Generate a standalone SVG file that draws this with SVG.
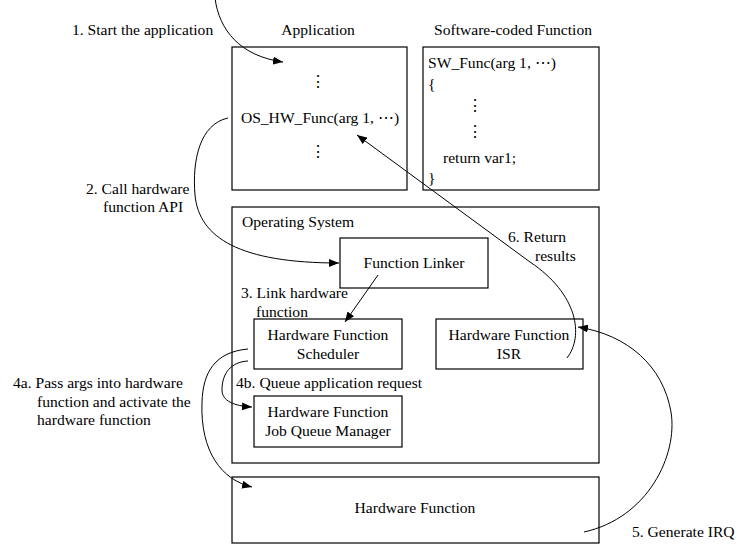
<svg xmlns="http://www.w3.org/2000/svg" width="739" height="544" viewBox="0 0 739 544" font-family="'Liberation Serif', 'Times New Roman', Times, serif" font-size="15.6">
<style>
.m{text-anchor:middle}
.box{fill:#fff;stroke:#000;stroke-width:1.2}
.c{fill:none;stroke:#000;stroke-width:1}
</style>
<defs>
<marker id="ah" viewBox="0 0 10 8" refX="10" refY="4" markerWidth="10" markerHeight="8" markerUnits="userSpaceOnUse" orient="auto">
<path d="M0,0 L10,4 L0,8 z" fill="#000"/>
</marker>
</defs>
<rect width="739" height="544" fill="#fff"/>

<g id="application">
<rect class="box" x="232" y="47" width="175" height="143"/>
<text class="m" x="318" y="35">Application</text>
<text class="m" x="318" y="87">⋮</text>
<text class="m" x="320" y="123">OS_HW_Func(arg 1, ⋯)</text>
<text class="m" x="318" y="157">⋮</text>
</g>

<g id="software-function">
<rect class="box" x="423" y="47" width="176" height="143"/>
<text class="m" x="513" y="35">Software-coded Function</text>
<text x="428" y="68">SW_Func(arg 1, ⋯)</text>
<text x="428" y="89">{</text>
<text class="m" x="475" y="111">⋮</text>
<text class="m" x="475" y="137">⋮</text>
<text x="443" y="163">return var1;</text>
<text x="428" y="183">}</text>
</g>

<g id="operating-system">
<rect class="box" x="232" y="207" width="367" height="256"/>
<text x="242" y="227">Operating System</text>
</g>

<g id="function-linker">
<rect class="box" x="340" y="238" width="148" height="50"/>
<text class="m" x="414" y="268">Function Linker</text>
</g>

<g id="scheduler">
<rect class="box" x="254" y="319" width="148" height="50"/>
<text class="m" x="328" y="340">Hardware Function</text>
<text class="m" x="328" y="359">Scheduler</text>
</g>

<g id="isr">
<rect class="box" x="436" y="319" width="147" height="50"/>
<text class="m" x="509" y="340">Hardware Function</text>
<text class="m" x="509" y="359">ISR</text>
</g>

<g id="job-queue-manager">
<rect class="box" x="254" y="396" width="148" height="51"/>
<text class="m" x="328" y="417">Hardware Function</text>
<text class="m" x="328" y="436">Job Queue Manager</text>
</g>

<g id="hardware-function">
<rect class="box" x="232" y="477" width="367" height="66"/>
<text class="m" x="415" y="513">Hardware Function</text>
</g>

<g id="connectors">
<path class="c" marker-end="url(#ah)" d="M215,-2 C219,30 240,56 283,62"/>
<path class="c" marker-end="url(#ah)" d="M228,118 C200,124 192,160 195,195 C199,238 240,263 339,263"/>
<path class="c" marker-end="url(#ah)" d="M378,275 L345,322"/>
<path class="c" marker-end="url(#ah)" d="M567,358 C584,336 578,294 530,262 L357,135"/>
<path class="c" marker-end="url(#ah)" d="M584,532 C648,518 678,455 671,412 C663,366 628,335 578,327"/>
<path class="c" marker-end="url(#ah)" d="M248,349 C215,352 203,372 202,402 C200,452 222,480 252,487"/>
<path class="c" marker-end="url(#ah)" d="M248,361 C231,362 222,373 222,390 C222,401 234,406 252,407"/>
</g>

<g id="labels">
<text x="72" y="35">1. Start the application</text>
<text x="86" y="194">2. Call hardware</text>
<text x="103" y="212">function API</text>
<text x="241" y="298">3. Link hardware</text>
<text x="256" y="317">function</text>
<text x="508" y="242">6. Return</text>
<text x="535" y="261">results</text>
<text x="13" y="388">4a. Pass args into hardware</text>
<text x="37" y="407">function and activate the</text>
<text x="37" y="425">hardware function</text>
<text x="236" y="388">4b. Queue application request</text>
<text x="632" y="537">5. Generate IRQ</text>
</g>
</svg>
